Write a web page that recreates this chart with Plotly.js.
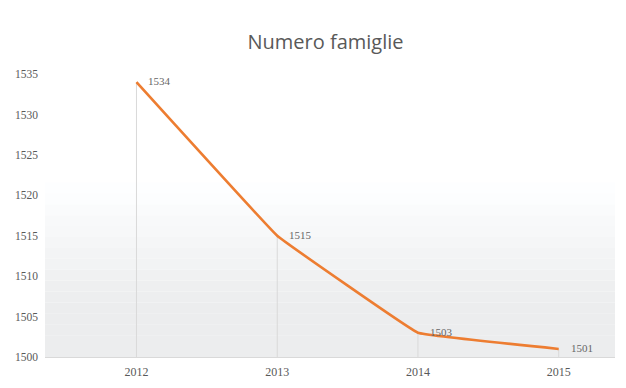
<!DOCTYPE html>
<html>
<head>
<meta charset="utf-8">
<script src="https://cdn.plot.ly/plotly-3.0.1.min.js"></script>
<style>html,body{margin:0;padding:0;background:#fff;}#chart{width:626px;height:388px;}</style>
</head>
<body>
<div id="chart"></div>
<script>
const years = ['2012', '2013', '2014', '2015'];
const families = [1534, 1515, 1503, 1501];
const labels = ['1534', '1515', '1503', '1501'];
const yTicks = [1500, 1505, 1510, 1515, 1520, 1525, 1530, 1535];
const baseline = 1500;

const xIdx = years.map((_, i) => i);

// soft gradient background bands (white top -> light grey bottom)
const shapes = [];
const nBands = 16;
for (let i = 0; i < nBands; i++) {
  const y0 = i / nBands * 0.6;
  const y1 = (i + 1) / nBands * 0.6;
  const t = Math.min(1, 1.4 * (1 - i / nBands)); // 1 at bottom
  const g = Math.round(255 - 19 * t);
  shapes.push({type: 'rect', xref: 'paper', yref: 'paper', x0: 0, x1: 1, y0: y0, y1: y1,
    fillcolor: `rgb(${g},${g + 1},${Math.min(255, g + 2)})`, line: {width: 0}, layer: 'below'});
}

const trace = {
  x: xIdx,
  y: families,
  mode: 'lines',
  line: {color: '#ED7D31', width: 2.6, shape: 'spline', smoothing: 0.15},
  error_y: {
    type: 'data', symmetric: false,
    array: families.map(() => 0),
    arrayminus: families.map(v => v - baseline),
    width: 0, thickness: 1, color: '#d9d9d9'
  },
  hoverinfo: 'none',
  showlegend: false
};

const annotations = xIdx.map((x, i) => ({
  x: x, y: families[i], text: labels[i],
  xref: 'x', yref: 'y', showarrow: false,
  xanchor: 'left', yanchor: 'middle', xshift: 10, yshift: 1,
  font: {family: 'Liberation Serif, serif', size: 11, color: '#666666'}
}));

const layout = {
  width: 626, height: 388,
  margin: {l: 45, r: 11, t: 66, b: 31},
  paper_bgcolor: '#ffffff',
  plot_bgcolor: 'rgba(0,0,0,0)',
  title: {text: 'Numero famiglie', x: 0.52, xanchor: 'center', y: 0.892, yanchor: 'middle',
    font: {family: 'Open Sans, sans-serif', size: 20, color: '#595959'}},
  xaxis: {
    range: [-0.65, 3.4],
    tickvals: xIdx, ticktext: years,
    showgrid: false, zeroline: false,
    showline: true, linecolor: '#d9d9d9', linewidth: 1,
    ticks: '', ticklabelstandoff: 4,
    tickfont: {family: 'Liberation Serif, serif', size: 12, color: '#595959'},
    fixedrange: true
  },
  yaxis: {
    range: [1500, 1536],
    tickvals: yTicks,
    showgrid: false, zeroline: false, showline: false,
    ticks: '', ticklabelstandoff: 6,
    tickfont: {family: 'Liberation Serif, serif', size: 11.5, color: '#595959'},
    fixedrange: true
  },
  shapes: shapes,
  annotations: annotations
};

Plotly.newPlot('chart', [trace], layout, {displayModeBar: false, staticPlot: true});
</script>
</body>
</html>
